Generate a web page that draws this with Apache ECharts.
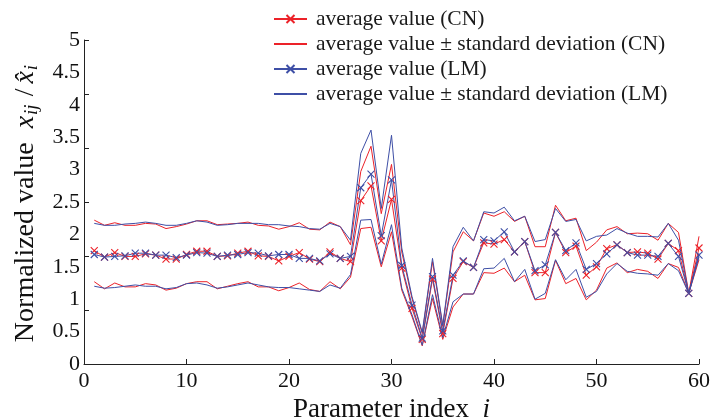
<!DOCTYPE html>
<html>
<head>
<meta charset="utf-8">
<script src="https://cdn.jsdelivr.net/npm/echarts@6/dist/echarts.min.js"></script>
<style>
  html, body { margin: 0; padding: 0; background: #ffffff; }
  #chart { width: 712px; height: 418px; }
</style>
</head>
<body>
<div id="chart"></div>
<script>
// Parameter index i
const paramIndex = [1,2,3,4,5,6,7,8,9,10,11,12,13,14,15,16,17,18,19,20,
  21,22,23,24,25,26,27,28,29,30,31,32,33,34,35,36,37,38,39,40,
  41,42,43,44,45,46,47,48,49,50,51,52,53,54,55,56,57,58,59,60];

// CN: average and average ± standard deviation
const cnMean = [1.75,1.65,1.72,1.66,1.66,1.70,1.68,1.62,1.62,1.69,1.74,1.74,1.66,1.67,1.71,1.74,1.67,
  1.66,1.59,1.66,1.72,1.62,1.58,1.73,1.63,1.58,
  2.52,2.75,1.90,2.54,1.48,0.86,0.38,1.31,0.47,1.32,
  1.58,1.49,1.87,1.85,1.92,1.73,1.89,1.41,
  1.41,2.03,1.72,1.82,1.37,1.50,1.78,1.84,1.72,1.73,1.71,1.62,1.86,1.75,1.09,1.79];
const cnUpper = [2.22,2.14,2.18,2.14,2.14,2.17,2.16,2.09,2.12,2.16,2.21,2.21,2.15,2.16,2.17,2.19,2.14,
  2.13,2.08,2.12,2.18,2.08,2.07,2.19,2.12,1.84,
  2.97,3.36,2.32,3.08,1.73,1.01,0.47,1.58,0.58,1.73,
  2.04,1.90,2.33,2.28,2.35,2.20,2.28,1.81,
  1.81,2.45,2.21,2.25,1.75,1.88,2.07,2.12,2.01,2.02,2.01,1.91,2.17,2.03,1.09,1.97];
const cnLower = [1.27,1.16,1.25,1.19,1.19,1.24,1.22,1.14,1.17,1.24,1.27,1.27,1.16,1.20,1.24,1.27,1.19,
  1.19,1.13,1.18,1.25,1.15,1.12,1.27,1.16,1.34,
  2.09,2.11,1.50,2.04,1.14,0.73,0.28,1.01,0.38,0.88,
  1.08,1.08,1.41,1.40,1.48,1.27,1.37,0.99,
  1.01,1.60,1.24,1.32,0.99,1.14,1.48,1.56,1.41,1.46,1.43,1.32,1.55,1.49,1.09,1.61];

// LM: average and average ± standard deviation
const lmMean = [1.69,1.65,1.66,1.67,1.71,1.71,1.68,1.68,1.64,1.68,1.72,1.71,1.66,1.68,1.69,1.72,1.71,
  1.67,1.69,1.69,1.63,1.63,1.59,1.70,1.63,1.66,
  2.72,2.93,1.98,2.84,1.52,0.91,0.40,1.35,0.51,1.37,
  1.59,1.49,1.92,1.90,2.04,1.73,1.89,1.44,
  1.53,2.03,1.75,1.87,1.46,1.55,1.70,1.84,1.72,1.68,1.68,1.66,1.86,1.66,1.09,1.68];
const lmUpper = [2.17,2.14,2.14,2.16,2.17,2.19,2.17,2.14,2.14,2.17,2.21,2.19,2.14,2.15,2.17,2.17,2.17,
  2.15,2.15,2.13,2.12,2.09,2.08,2.17,2.12,1.91,
  3.25,3.61,2.40,3.53,1.79,1.04,0.49,1.63,0.60,1.81,
  2.11,1.90,2.35,2.33,2.42,2.21,2.28,1.89,
  1.92,2.40,2.20,2.23,1.90,1.97,1.99,2.09,2.02,1.97,1.97,1.96,2.17,1.91,1.09,1.71];
const lmLower = [1.20,1.17,1.18,1.20,1.22,1.20,1.20,1.16,1.18,1.24,1.25,1.22,1.17,1.19,1.22,1.25,1.22,
  1.19,1.18,1.18,1.16,1.14,1.12,1.22,1.17,1.38,
  2.22,2.23,1.54,2.15,1.17,0.76,0.29,1.07,0.41,0.96,
  1.08,1.08,1.47,1.48,1.63,1.27,1.46,1.00,
  1.09,1.61,1.30,1.46,1.03,1.12,1.39,1.55,1.43,1.40,1.39,1.37,1.55,1.44,1.09,1.65];

const seriesNames = [
  'average value (CN)',
  'average value \u00b1 standard deviation (CN)',
  'average value (LM)',
  'average value \u00b1 standard deviation (LM)'
];

const RED = '#ec2229';
const BLUE = '#3e4fa6';
const SERIF = "'Liberation Serif', 'DejaVu Serif', serif";
const CROSS = 'path://M0,0L10,10M10,0L0,10';
const NO_MARK = { color: 'rgba(0,0,0,0)', borderColor: 'rgba(0,0,0,0)', borderWidth: 0 };

const pairs = vals => paramIndex.map((p, k) => [p, vals[k]]);

function meanLine(name, color, vals) {
  return {
    name, type: 'line', data: pairs(vals), color,
    symbol: CROSS, symbolSize: 7, showSymbol: true,
    lineStyle: { width: 1, color },
    itemStyle: { color: 'rgba(0,0,0,0)', borderColor: color, borderWidth: 1.1 },
    emphasis: { disabled: true }, silent: true, animation: false
  };
}
function bandLine(name, color, vals) {
  return {
    name, type: 'line', data: pairs(vals), color,
    symbol: 'none', lineStyle: { width: 1, color },
    emphasis: { disabled: true }, silent: true, animation: false
  };
}

const chart = echarts.init(document.getElementById('chart'), null, { renderer: 'canvas' });
chart.setOption({
  backgroundColor: '#ffffff',
  animation: false,
  grid: { left: 84, right: 13, top: 40, bottom: 54, outerBoundsMode: 'none', containLabel: false },
  legend: {
    orient: 'vertical', left: 268, top: 3, itemWidth: 33, itemHeight: 10, itemGap: 3,
    data: [
      { name: seriesNames[0] },
      { name: seriesNames[1], itemStyle: NO_MARK },
      { name: seriesNames[2] },
      { name: seriesNames[3], itemStyle: NO_MARK }
    ],
    textStyle: { fontFamily: SERIF, fontSize: 21.5, color: '#1a1a1a', padding: [0, 0, 0, 4] }
  },
  xAxis: {
    type: 'value', min: 0, max: 60, interval: 10,
    axisLine: { lineStyle: { color: '#222', width: 1 } },
    axisTick: { inside: true, length: 5, lineStyle: { color: '#222' } },
    axisLabel: { fontFamily: SERIF, fontSize: 22, color: '#111', margin: 6 },
    splitLine: { show: false },
    name: 'Parameter index  {i|i}',
    nameLocation: 'middle', nameGap: 27,
    nameTextStyle: {
      fontFamily: SERIF, fontSize: 27, color: '#111',
      rich: { i: { fontFamily: SERIF, fontSize: 27, fontStyle: 'italic', color: '#111' } }
    }
  },
  yAxis: [{
    type: 'value', min: 0, max: 5, interval: 0.5,
    axisLine: { show: true, lineStyle: { color: '#222', width: 1 } },
    axisTick: { show: false },
    axisLabel: { fontFamily: SERIF, fontSize: 22, color: '#111', margin: 4 },
    splitLine: { show: false },
    name: 'Normalized value  {m|x}{s|ij}{n|/}{m|x\u0302}{s|i}',
    nameLocation: 'middle', nameGap: 43,
    nameTextStyle: {
      fontFamily: SERIF, fontSize: 28, color: '#111',
      rich: {
        m: { fontFamily: SERIF, fontSize: 28, fontStyle: 'italic', color: '#111' },
        n: { fontFamily: SERIF, fontSize: 28, color: '#111', padding: [0, 5, 0, 5] },
        s: { fontFamily: SERIF, fontSize: 19, fontStyle: 'italic', color: '#111', padding: [12, 3, 0, 1] }
      }
    }
  }, {
    // tick marks along the left axis
    type: 'value', min: 0, max: 6, interval: 1, position: 'left',
    axisLine: { show: false },
    axisTick: { show: true, inside: true, length: 5, lineStyle: { color: '#222' } },
    axisLabel: { show: false },
    splitLine: { show: false }
  }],
  series: [
    meanLine(seriesNames[0], RED, cnMean),
    bandLine(seriesNames[1], RED, cnUpper),
    bandLine(seriesNames[1], RED, cnLower),
    meanLine(seriesNames[2], BLUE, lmMean),
    bandLine(seriesNames[3], BLUE, lmUpper),
    bandLine(seriesNames[3], BLUE, lmLower)
  ]
});
</script>
</body>
</html>
